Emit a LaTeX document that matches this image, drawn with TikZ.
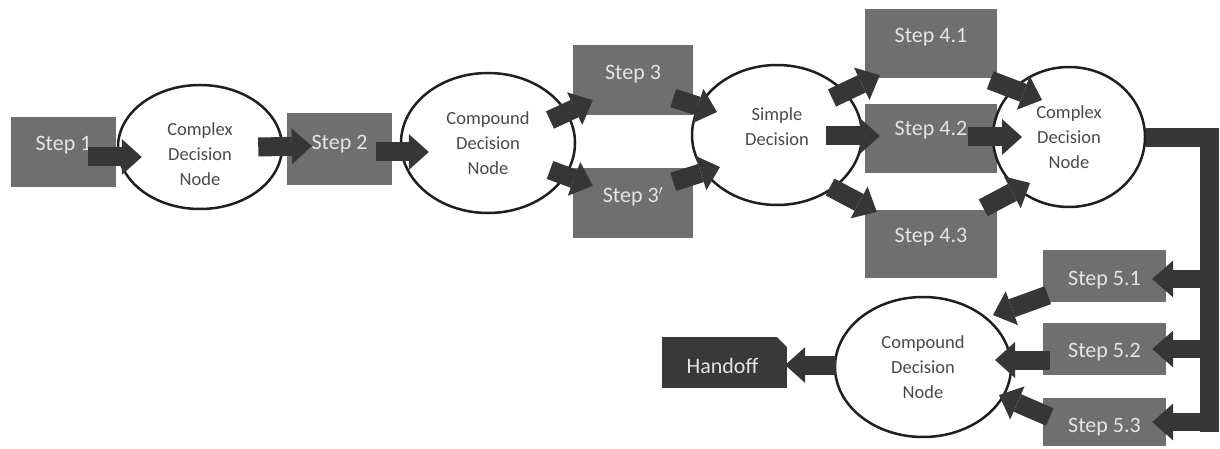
\documentclass[tikz,border=0pt]{standalone}
\usepackage{fontspec}
\setmainfont{Carlito}
\usetikzlibrary{arrows.meta,shapes.geometric,calc}
\definecolor{boxgray}{HTML}{6F6F6F}
\definecolor{boxtext}{HTML}{E4E4E4}
\definecolor{arrowc}{HTML}{363636}
\definecolor{elltext}{HTML}{4A4A4A}
\definecolor{handc}{HTML}{393939}
\begin{document}
\begin{tikzpicture}[x=1pt,y=-1pt,
  stepbox/.style={fill=boxgray, draw=none, inner sep=0pt},
  stext/.style={text=boxtext, font=\fontsize{22}{26}\selectfont, inner sep=0pt},
  ell/.style={ellipse, draw=black!88, line width=2.5pt, fill=white, inner sep=0pt},
  etext/.style={text=elltext, font=\fontsize{18.5}{25}\selectfont, align=center, inner sep=0pt},
  barrow/.style={draw=arrowc, line width=19pt, -{Triangle[length=20pt,width=36pt,line width=0pt]}},
  bararrow/.style={draw=arrowc, line width=18pt, -{Triangle[length=21pt,width=37pt,line width=0pt]}},
  bar/.style={draw=arrowc, line width=19pt, line join=miter},
  handbox/.style={rectangle, fill=handc, draw=none, inner sep=0pt,
    path picture={\fill[white] ([xshift=-10pt]path picture bounding box.north east)
      -- ([xshift=1pt,yshift=1pt]path picture bounding box.north east)
      -- ([yshift=-10pt]path picture bounding box.north east) -- cycle;}}
]
\useasboundingbox[fill=white] (0,0) rectangle (1220,449);

% step boxes
\node[stepbox, minimum width=105pt, minimum height=70pt,
  label={[stext,yshift=7pt]center:Step 1}] (s1) at (63.5,152) {};
\node[stepbox, minimum width=105pt, minimum height=72pt,
  label={[stext,yshift=5pt]center:Step 2}] (s2) at (339.5,149) {};
\node[stepbox, minimum width=120pt, minimum height=70pt,
  label={[stext,yshift=6pt]center:Step 3}] (s3) at (633,80) {};
\node[stepbox, minimum width=120pt, minimum height=70pt,
  label={[stext,yshift=6pt]center:Step 3$'$}] (s3p) at (633,203) {};
\node[stepbox, minimum width=132pt, minimum height=69pt,
  label={[stext,yshift=6.5pt]center:Step 4.1}] (s41) at (931,43.5) {};
\node[stepbox, minimum width=132pt, minimum height=69pt,
  label={[stext,yshift=8.5pt]center:Step 4.2}] (s42) at (931,138.5) {};
\node[stepbox, minimum width=132pt, minimum height=68pt,
  label={[stext,yshift=7pt]center:Step 4.3}] (s43) at (931,244) {};
\node[stepbox, minimum width=123pt, minimum height=52pt,
  label={[stext,yshift=-4pt]center:Step 5.1}] (s51) at (1104.5,276) {};
\node[stepbox, minimum width=123pt, minimum height=52pt,
  label={[stext,yshift=-3pt]center:Step 5.2}] (s52) at (1104.5,349) {};
\node[stepbox, minimum width=123pt, minimum height=48pt,
  label={[stext,yshift=-5pt]center:Step 5.3}] (s53) at (1104.5,422) {};
\node[handbox, minimum width=125pt, minimum height=51pt,
  label={[stext,xshift=-2pt,yshift=-3pt]center:Handoff}] (hand) at (724.5,362.5) {};

% decision ellipses
\node[ell, minimum width=164pt, minimum height=124pt,
  label={[etext,yshift=-7pt]center:Complex\\Decision\\Node}] (e1) at (200,147) {};
\node[ell, minimum width=174pt, minimum height=140pt,
  label={[etext]center:Compound\\Decision\\Node}] (e2) at (488,143) {};
\node[ell, minimum width=170pt, minimum height=140pt,
  label={[etext,yshift=8pt]center:Simple\\Decision}] (e3) at (777,135) {};
\node[ell, minimum width=152pt, minimum height=140pt,
  label={[etext]center:Complex\\Decision\\Node}] (e4) at (1069,137) {};
\node[ell, minimum width=176pt, minimum height=140pt,
  label={[etext]center:Compound\\Decision\\Node}] (e5) at (923,367) {};

% connectors
\draw[barrow] ($(s1.east)+(-28,5)$) -- ($(e1.west)+(25,10)$);
\draw[barrow] ($(e1.east)+(-25,0)$) -- ($(s2.west)+(25,-3)$);
\draw[barrow] ($(s2.east)+(-16,3)$) -- ($(e2.west)+(29,9)$);
\draw[barrow] ($(e2.center)+(62,-23)$) -- ($(s3.south west)+(20,-15)$);
\draw[barrow] ($(e2.center)+(62,27)$) -- ($(s3p.north west)+(20,18)$);
\draw[barrow] ($(s3.south east)+(-20,-17)$) -- ($(e3.center)+(-60,-23)$);
\draw[barrow] ($(s3p.north east)+(-20,14)$) -- ($(e3.center)+(-57,32)$);
\draw[barrow] ($(e3.center)+(55,-37)$) -- ($(s41.south west)+(15,-3)$);
\draw[barrow] ($(e3.center)+(49,1)$) -- ($(s42.west)+(15,-2.5)$);
\draw[barrow] ($(e3.center)+(53,52)$) -- ($(s43.north west)+(12,2)$);
\draw[barrow] ($(s41.south east)+(-7,2)$) -- ($(e4.center)+(-27,-37)$);
\draw[barrow] ($(s42.east)+(-29,-1.5)$) -- ($(e4.center)+(-47,0)$);
\draw[barrow] ($(s43.north east)+(-14,-2)$) -- ($(e4.center)+(-39,46)$);

% bus to step 5 boxes
\coordinate (bend) at (1209,138);
\coordinate (bendend) at (1209,432);
\draw[bar] (e4.east |- bend) -- (bend) -- (bendend);
\draw[bararrow] ($(bend |- s51.east)+(0,3)$) -- ($(s51.east)+(-14,3)$);
\draw[bararrow] ($(bend |- s52.east)+(0,0)$) -- ($(s52.east)+(-14,0)$);
\draw[bararrow] ($(bend |- s53.east)+(0,0)$) -- ($(s53.east)+(-14,0)$);

\draw[barrow] ($(s51.south west)+(5,-7)$) -- ($(e5.center)+(70,-52)$);
\draw[barrow] ($(s52.west)+(7,11)$) -- ($(e5.center)+(72,-7)$);
\draw[barrow] ($(s53.west)+(7,-5)$) -- ($(e5.center)+(76,28)$);
\draw[barrow] ($(e5.west)+(2,-2)$) -- ($(hand.east)+(-2,2.5)$);
\end{tikzpicture}
\end{document}
